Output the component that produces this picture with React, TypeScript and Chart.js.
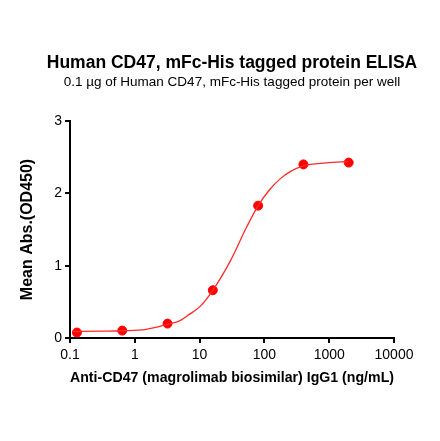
import React, { useEffect, useRef } from "react";
import { Chart, registerables } from "chart.js";

Chart.register(...registerables);

// Concentrations (ng/mL) and mean OD450 readings
const concentrations = [0.128, 0.64, 3.2, 16, 80, 400, 2000];
const meanAbs = [0.075, 0.102, 0.199, 0.66, 1.83, 2.4, 2.425];

// Fitted curve
const curveX = [0.11, 0.3, 0.64, 1.5, 3.2, 5, 7, 10, 16, 30, 53, 80, 120, 175, 250, 400, 900, 2000];
const curveY = [0.09, 0.095, 0.1, 0.12, 0.19, 0.24, 0.33, 0.43, 0.66, 1.07, 1.53, 1.83, 2.05, 2.2, 2.3, 2.38, 2.42, 2.44];

const xTicks = [0.1, 1, 10, 100, 1000, 10000];
const xTickLabels = ["0.1", "1", "10", "100", "1000", "10000"];
const yTicks = [0, 1, 2, 3];

const titleText = "Human CD47, mFc-His tagged protein ELISA";
const subtitleText = "0.1 \u00b5g of Human CD47, mFc-His tagged protein per well";
const xTitle = "Anti-CD47 (magrolimab biosimilar) IgG1 (ng/mL)";
const yTitle = "Mean Abs.(OD450)";

const FONT = 'Arial, "Liberation Sans", Helvetica, sans-serif';

const titlesPlugin = {
  id: "centeredTitles",
  afterDraw(chart: any) {
    const { ctx, chartArea } = chart;
    const cx = (chartArea.left + chartArea.right) / 2;
    ctx.save();
    ctx.fillStyle = "#000";
    ctx.textAlign = "center";
    ctx.textBaseline = "alphabetic";
    ctx.font = `bold 17.5px ${FONT}`;
    ctx.fillText(titleText, cx, 68);
    ctx.font = `13.5px ${FONT}`;
    ctx.fillText(subtitleText, cx, 86);
    ctx.restore();
  },
};

export default function App() {
  const ref = useRef<HTMLCanvasElement | null>(null);

  useEffect(() => {
    if (!ref.current) return;
    const chart = new Chart(ref.current, {
      type: "scatter",
      data: {
        datasets: [
          {
            label: "fit",
            data: curveX.map((x, i) => ({ x, y: curveY[i] })),
            showLine: true,
            borderColor: "#ff2a2a",
            borderWidth: 1.3,
            pointRadius: 0,
            cubicInterpolationMode: "monotone",
            fill: false,
          },
          {
            label: "data",
            data: concentrations.map((x, i) => ({ x, y: meanAbs[i] })),
            showLine: false,
            backgroundColor: "#ff0000",
            borderColor: "#ff0000",
            pointRadius: 4.5,
            pointHoverRadius: 4.5,
          },
        ],
      },
      options: {
        animation: false,
        responsive: false,
        maintainAspectRatio: false,
        layout: { padding: { top: 121, left: 0, right: 46, bottom: 0 } },
        plugins: {
          legend: { display: false },
          tooltip: { enabled: false },
          title: { display: false },
          subtitle: { display: false },
        },
        scales: {
          x: {
            type: "logarithmic",
            min: 0.1,
            max: 10000,
            afterBuildTicks: (scale: any) => {
              scale.ticks = xTicks.map((v) => ({ value: v }));
            },
            afterFit: (scale: any) => {
              scale.height = 103;
            },
            ticks: {
              color: "#000",
              font: { family: FONT, size: 14 },
              padding: 4,
              maxRotation: 0,
              autoSkip: false,
              callback: (v: any) => {
                const i = xTicks.indexOf(Number(v));
                return i >= 0 ? xTickLabels[i] : "";
              },
            },
            grid: {
              display: true,
              drawOnChartArea: false,
              drawTicks: true,
              tickLength: 5,
              color: "#000",
              lineWidth: 2,
            },
            border: { display: true, color: "#000", width: 2 },
            title: {
              display: true,
              text: xTitle,
              color: "#000",
              font: { family: FONT, size: 15.5, weight: "bold", lineHeight: 1.2 },
              padding: { top: 0, bottom: 54 },
            },
          },
          y: {
            type: "linear",
            min: 0,
            max: 3,
            afterBuildTicks: (scale: any) => {
              scale.ticks = yTicks.map((v) => ({ value: v }));
            },
            afterFit: (scale: any) => {
              scale.width = 70;
            },
            ticks: {
              color: "#000",
              font: { family: FONT, size: 14 },
              padding: 3,
              callback: (v: any) => String(v),
            },
            grid: {
              display: true,
              drawOnChartArea: false,
              drawTicks: true,
              tickLength: 5,
              color: "#000",
              lineWidth: 2,
            },
            border: { display: true, color: "#000", width: 2 },
            title: {
              display: true,
              text: yTitle,
              color: "#000",
              font: { family: FONT, size: 16, weight: "bold", lineHeight: 1.2 },
              padding: { top: 18, bottom: 0 },
            },
          },
        },
      },
      plugins: [titlesPlugin],
    });
    return () => chart.destroy();
  }, []);

  return (
    <div style={{ position: "fixed", left: 0, top: 0, width: 440, height: 441, background: "#fff" }}>
      <canvas ref={ref} width={440} height={441} style={{ width: 440, height: 441 }} />
    </div>
  );
}
